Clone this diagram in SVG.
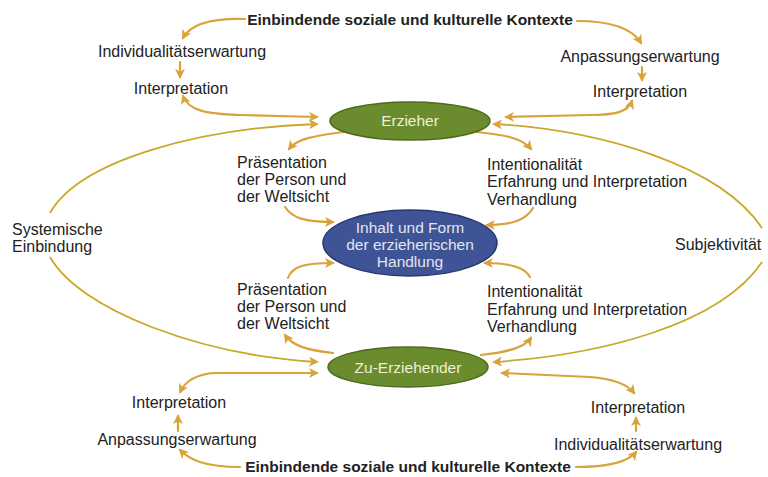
<svg xmlns="http://www.w3.org/2000/svg" width="768" height="477" viewBox="0 0 768 477">
<style>
  text { font-family: "Liberation Sans", Arial, sans-serif; fill: #222; font-size: 16px; }
  .title { font-weight: bold; font-size: 15.5px; text-anchor: middle; }
  .mid { text-anchor: middle; }
  .green { fill: #6a8c2e; stroke: #4b6a1c; stroke-width: 1.5; }
  .blue { fill: #3e5496; stroke: #27386e; stroke-width: 1.5; }
  .ntext { fill: #f1eed6; text-anchor: middle; font-size: 15.5px; }
  .btext { fill: #e2e5ef; text-anchor: middle; font-size: 15.5px; }
  .arr { fill: none; stroke: #d9a33a; stroke-width: 2.2; stroke-linecap: round; }
  .one { marker-end: url(#ah); }
  .two { marker-start: url(#ah); marker-end: url(#ah); }
  .big { fill: none; stroke: #c9a82a; stroke-width: 1.8; marker-end: url(#ahb); }
</style>
<defs>
  <marker id="ah" viewBox="0 0 10 10" refX="8" refY="5" markerWidth="5" markerHeight="4.5" orient="auto-start-reverse" markerUnits="strokeWidth">
    <path d="M0,0 L10,5 L0,10 L2.5,5 Z" fill="#d9a33a"/>
  </marker>
  <marker id="ahb" viewBox="0 0 10 10" refX="8" refY="5" markerWidth="6" markerHeight="5.5" orient="auto-start-reverse" markerUnits="strokeWidth">
    <path d="M0,0 L10,5 L0,10 L2.5,5 Z" fill="#d9a33a"/>
  </marker>
</defs>

<g id="connectors">
  <!-- top contexts -->
  <path class="arr one" d="M245 19 C210 18 190 25 183 38"/>
  <path class="arr one" d="M577 21 C610 21 632 28 641 43"/>
  <path class="arr one" d="M180 62 L180 77"/>
  <path class="arr one" d="M642 67 L642 80"/>
  <!-- interpretation <-> Erzieher -->
  <path class="arr two" d="M183 96 C188 110 205 114 240 115 L317 117"/>
  <path class="arr two" d="M632 101 C628 112 615 115 590 115 L506 117"/>
  <!-- big systemic curve (left) -->
  <path class="big" d="M50 213 C80 160 200 128 317 124"/>
  <path class="big" d="M50 257 C80 310 200 355 317 362"/>
  <!-- big subjectivity curve (right) -->
  <path class="big" d="M762 228 C720 165 600 130 494 124"/>
  <path class="big" d="M762 262 C720 325 600 355 494 362"/>
  <!-- Erzieher to labels -->
  <path class="arr one" d="M343 132 C315 136 298 138 289 149"/>
  <path class="arr one" d="M477 132 C505 135 522 138 531 149"/>
  <!-- labels to center -->
  <path class="arr one" d="M285 207 C292 218 305 222 333 222"/>
  <path class="arr one" d="M533 208 C526 220 512 225 487 225"/>
  <path class="arr one" d="M288 278 C292 266 305 263 333 263"/>
  <path class="arr one" d="M530 277 C525 267 510 263 485 263"/>
  <!-- Zu-Erziehender to labels -->
  <path class="arr one" d="M333 353 C305 350 292 345 285 335"/>
  <path class="arr one" d="M481 355 C510 352 525 347 531 338"/>
  <!-- interpretation <-> Zu-Erziehender -->
  <path class="arr two" d="M317 373 L215 373 C195 374 185 382 180 392"/>
  <path class="arr two" d="M502 373 L590 377 C615 379 628 385 634 393"/>
  <!-- bottom -->
  <path class="arr one" d="M178 431 L178 416"/>
  <path class="arr one" d="M636 431 L636 418"/>
  <path class="arr one" d="M240 467 C205 467 190 460 180 450"/>
  <path class="arr one" d="M576 467 C610 467 628 462 636 452"/>
</g>

<g id="erzieher">
  <ellipse class="green" cx="410" cy="121" rx="80" ry="19"/>
  <text class="ntext" x="410" y="126">Erzieher</text>
</g>
<g id="handlung">
  <ellipse class="blue" cx="410" cy="243" rx="87" ry="33"/>
  <text class="btext" x="410" y="233">Inhalt und Form</text>
  <text class="btext" x="410" y="250">der erzieherischen</text>
  <text class="btext" x="410" y="267">Handlung</text>
</g>
<g id="zu-erziehender">
  <ellipse class="green" cx="408" cy="367" rx="80" ry="20"/>
  <text class="ntext" x="408" y="373">Zu-Erziehender</text>
</g>

<g id="kontexte-oben"><text class="title" x="410" y="25">Einbindende soziale und kulturelle Kontexte</text></g>
<g id="individualitaet-oben"><text class="mid" x="182" y="57">Individualitätserwartung</text></g>
<g id="interpretation-ol"><text class="mid" x="181" y="94">Interpretation</text></g>
<g id="anpassung-oben"><text class="mid" x="640" y="62">Anpassungserwartung</text></g>
<g id="interpretation-or"><text class="mid" x="640" y="97">Interpretation</text></g>

<g id="praesentation-oben">
  <text x="237" y="168">Präsentation</text>
  <text x="237" y="185">der Person und</text>
  <text x="237" y="202">der Weltsicht</text>
</g>
<g id="intentionalitaet-oben">
  <text x="487" y="170">Intentionalität</text>
  <text x="487" y="187">Erfahrung und Interpretation</text>
  <text x="487" y="205">Verhandlung</text>
</g>
<g id="praesentation-unten">
  <text x="237" y="295">Präsentation</text>
  <text x="237" y="312">der Person und</text>
  <text x="237" y="329">der Weltsicht</text>
</g>
<g id="intentionalitaet-unten">
  <text x="487" y="297">Intentionalität</text>
  <text x="487" y="315">Erfahrung und Interpretation</text>
  <text x="487" y="332">Verhandlung</text>
</g>

<g id="systemische">
  <text x="12" y="235">Systemische</text>
  <text x="12" y="252">Einbindung</text>
</g>
<g id="subjektivitaet"><text x="675" y="250">Subjektivität</text></g>

<g id="interpretation-ul"><text class="mid" x="179" y="408">Interpretation</text></g>
<g id="anpassung-unten"><text class="mid" x="177" y="445">Anpassungserwartung</text></g>
<g id="interpretation-ur"><text class="mid" x="638" y="413">Interpretation</text></g>
<g id="individualitaet-unten"><text class="mid" x="638" y="450">Individualitätserwartung</text></g>
<g id="kontexte-unten"><text class="title" x="408" y="472">Einbindende soziale und kulturelle Kontexte</text></g>
</svg>
